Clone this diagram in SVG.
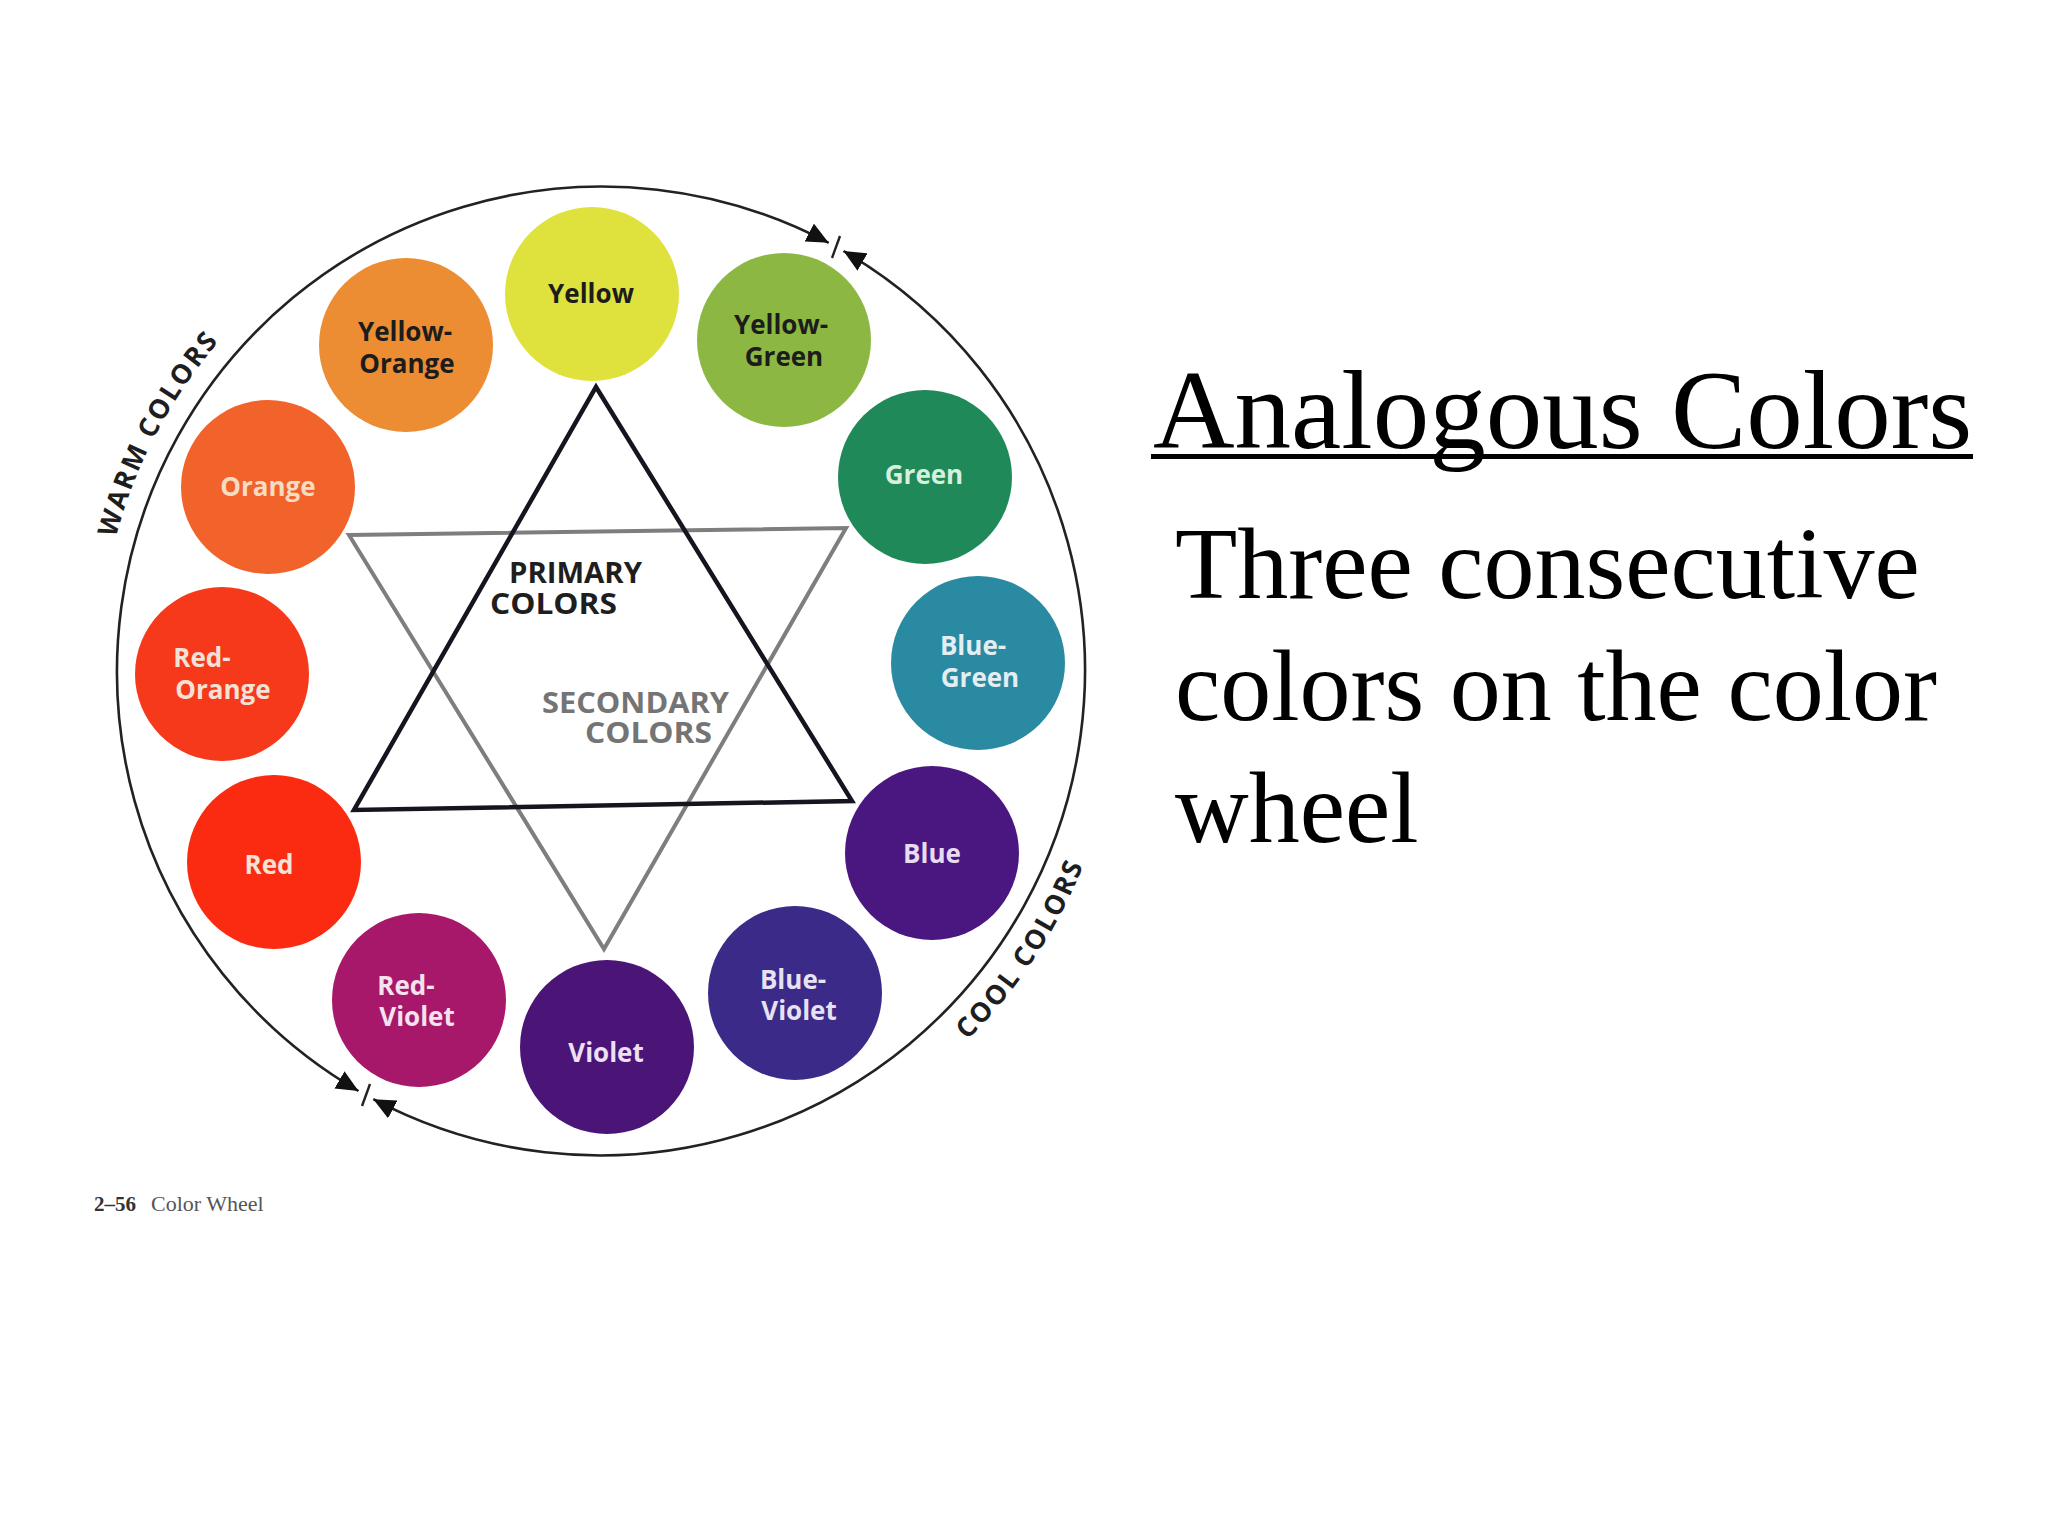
<svg xmlns="http://www.w3.org/2000/svg" width="2048" height="1536" viewBox="0 0 2048 1536">
  <defs>
    <style>
      .lbl { font-family: "Open Sans", "Lato", "DejaVu Sans", sans-serif; font-weight: 700; font-size: 26px; text-anchor: middle; }
      .dark { fill: #1c1c1c; }
      .ring { fill: none; stroke: #222; stroke-width: 2.6; }
      .arcText { font-family: "Open Sans", "Lato", "DejaVu Sans", sans-serif; font-weight: 700; font-size: 27px; fill: #1e1e1e; letter-spacing: 2px; }
      .tri1 { fill: none; stroke: #15151f; stroke-width: 4.5; stroke-linejoin: miter; }
      .tri2 { fill: none; stroke: #7e7e7e; stroke-width: 4; stroke-linejoin: miter; }
      .mid { font-family: "Open Sans", "Lato", "DejaVu Sans", sans-serif; font-weight: 700; font-size: 29px; }
      .serif { font-family: "Liberation Serif", "Times New Roman", serif; fill: #000; }
    </style>
    <marker id="ah" viewBox="0 0 22 20" markerWidth="22" markerHeight="20" refX="22" refY="10" orient="auto-start-reverse" markerUnits="userSpaceOnUse">
      <path d="M0,0 L22,10 L0,20 z" fill="#111"/>
    </marker>
  </defs>

  <rect width="2048" height="1536" fill="#ffffff"/>

  <!-- outer ring with arrowheads -->
  <g id="connectors">
    <path class="ring" d="M843.5,251.0 A485 485 0 0 1 373.3,1099.2" marker-start="url(#ah)" marker-end="url(#ah)"/>
    <path class="ring" d="M358.5,1091.0 A485 485 0 0 1 828.7,242.8" marker-start="url(#ah)" marker-end="url(#ah)"/>
    <line x1="832" y1="258" x2="840" y2="236" stroke="#222" stroke-width="2.4"/>
    <line x1="362" y1="1106" x2="370" y2="1084" stroke="#222" stroke-width="2.4"/>
  </g>

  <!-- curved labels -->
  <g id="warm-label">
    <path id="warmPath" d="M103.2,599.1 A504 504 0 0 1 274.2,286.0" fill="none"/>
    <text class="arcText"><textPath href="#warmPath" startOffset="48%" text-anchor="middle">WARM COLORS</textPath></text>
  </g>
  <g id="cool-label">
    <path id="coolPath" d="M910.3,1089.0 A520 520 0 0 0 1106.6,792.4" fill="none"/>
    <text class="arcText"><textPath href="#coolPath" startOffset="50%" text-anchor="middle">COOL COLORS</textPath></text>
  </g>

  <!-- triangles -->
  <g id="secondary-triangle">
    <polygon class="tri2" points="349,535 846,528 604,949"/>
  </g>
  <g id="primary-triangle">
    <polygon class="tri1" points="596,387 852,801 354,810"/>
  </g>

  <g id="primary-label">
    <text class="mid" fill="#1e1e1e" x="509" y="583" textLength="133" lengthAdjust="spacingAndGlyphs">PRIMARY</text>
    <text class="mid" fill="#1e1e1e" x="490" y="614" textLength="127" lengthAdjust="spacingAndGlyphs">COLORS</text>
  </g>
  <g id="secondary-label">
    <text class="mid" fill="#747474" x="542" y="713" textLength="187" lengthAdjust="spacingAndGlyphs">SECONDARY</text>
    <text class="mid" fill="#747474" x="585" y="743" textLength="127" lengthAdjust="spacingAndGlyphs">COLORS</text>
  </g>

  <!-- color nodes -->
  <g id="yellow">
    <circle cx="592" cy="294" r="87" fill="#dfe13d"/>
    <text class="lbl dark" x="591" y="303">Yellow</text>
  </g>
  <g id="yellow-green">
    <circle cx="784" cy="340" r="87" fill="#8cb743"/>
    <text class="lbl dark" x="781" y="334">Yellow-</text>
    <text class="lbl dark" x="784" y="366">Green</text>
  </g>
  <g id="green">
    <circle cx="925" cy="477" r="87" fill="#20895a"/>
    <text class="lbl" fill="#d6f0dc" x="924" y="484">Green</text>
  </g>
  <g id="blue-green">
    <circle cx="978" cy="663" r="87" fill="#2a8aa2"/>
    <text class="lbl" fill="#e4eef2" x="973" y="655">Blue-</text>
    <text class="lbl" fill="#e4eef2" x="980" y="687">Green</text>
  </g>
  <g id="blue">
    <circle cx="932" cy="853" r="87" fill="#4a1780"/>
    <text class="lbl" fill="#e8dcf0" x="932" y="863">Blue</text>
  </g>
  <g id="blue-violet">
    <circle cx="795" cy="993" r="87" fill="#3b2a88"/>
    <text class="lbl" fill="#e6e2f2" x="793" y="989">Blue-</text>
    <text class="lbl" fill="#e6e2f2" x="799" y="1020">Violet</text>
  </g>
  <g id="violet">
    <circle cx="607" cy="1047" r="87" fill="#4a1577"/>
    <text class="lbl" fill="#ece0f2" x="606" y="1062">Violet</text>
  </g>
  <g id="red-violet">
    <circle cx="419" cy="1000" r="87" fill="#a7186a"/>
    <text class="lbl" fill="#f4e2ee" x="406" y="995">Red-</text>
    <text class="lbl" fill="#f4e2ee" x="417" y="1026">Violet</text>
  </g>
  <g id="red">
    <circle cx="274" cy="862" r="87" fill="#fb2b12"/>
    <text class="lbl" fill="#f5e2d6" x="269" y="874">Red</text>
  </g>
  <g id="red-orange">
    <circle cx="222" cy="674" r="87" fill="#f7391b"/>
    <text class="lbl" fill="#f5e2d6" x="202" y="667">Red-</text>
    <text class="lbl" fill="#f5e2d6" x="223" y="699">Orange</text>
  </g>
  <g id="orange">
    <circle cx="268" cy="487" r="87" fill="#f1632a"/>
    <text class="lbl" fill="#f6dcc2" x="268" y="496">Orange</text>
  </g>
  <g id="yellow-orange">
    <circle cx="406" cy="345" r="87" fill="#ec8c33"/>
    <text class="lbl dark" x="405" y="341">Yellow-</text>
    <text class="lbl dark" x="407" y="373">Orange</text>
  </g>

  <!-- caption -->
  <g id="caption">
    <text font-family="Liberation Serif, serif" font-size="21" font-weight="700" fill="#333" x="94" y="1211">2–56</text>
    <text font-family="Liberation Serif, serif" font-size="22" fill="#555" x="151" y="1211">Color Wheel</text>
  </g>

  <!-- title and body -->
  <g id="title">
    <text class="serif" font-size="113" x="1153" y="448">Analogous Colors</text>
    <rect x="1151" y="454" width="822" height="5" fill="#000"/>
  </g>
  <g id="body">
    <text class="serif" font-size="102" x="1175" y="598">Three consecutive</text>
    <text class="serif" font-size="102" x="1175" y="720">colors on the color</text>
    <text class="serif" font-size="102" x="1175" y="842">wheel</text>
  </g>
</svg>
